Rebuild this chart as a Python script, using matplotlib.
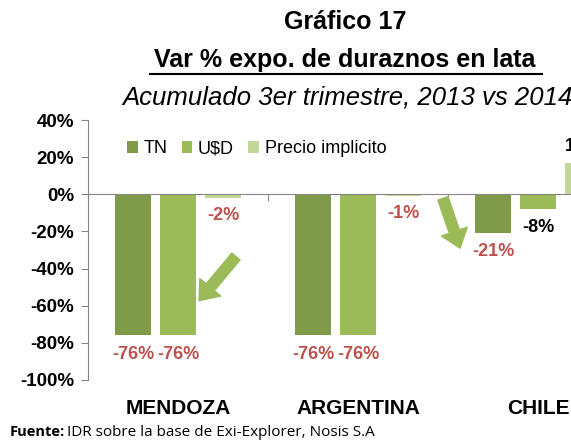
import matplotlib
matplotlib.use("Agg")
import matplotlib.pyplot as plt
import numpy as np

# pip install matplotlib numpy

regions = ["MENDOZA", "ARGENTINA", "CHILE"]
series_names = ["TN", "U$D", "Precio implicito"]
tn_values = [-76, -76, -21]
usd_values = [-76, -76, -8]
price_values = [-2, -1, 17]
tn_labels = ["-76%", "-76%", "-21%"]
usd_labels = ["-76%", "-76%", "-8%"]
price_labels = ["-2%", "-1%", "17%"]
y_ticks = [40, 20, 0, -20, -40, -60, -80, -100]

colors = ["#7F9A48", "#9BBB59", "#C4D79B"]
red = "#C0504D"
plt.rcParams["font.family"] = ["Liberation Sans", "DejaVu Sans"]

fig = plt.figure(figsize=(5.71, 4.41), dpi=100)
# axes is wider than the figure on purpose: the reference is cropped on the right
ax = fig.add_axes([88 / 571, 61 / 441, 540 / 571, 260 / 441])

x = np.arange(len(regions))
offset = 0.25
width = 0.205
all_values = [tn_values, usd_values, price_values]
for i, vals in enumerate(all_values):
    ax.bar(x + (i - 1) * offset, vals, width, color=colors[i], label=series_names[i], zorder=2)

# value labels
for i in range(len(regions)):
    ax.text(x[i] - offset, tn_values[i] - 5.5, tn_labels[i], ha="center", va="top",
            color=red, fontsize=13, fontweight="bold")
    usd_color = red if i < 2 else "black"
    ax.text(x[i], usd_values[i] - 5.5, usd_labels[i], ha="center", va="top",
            color=usd_color, fontsize=13, fontweight="bold")
    if price_values[i] < 0:
        ax.text(x[i] + offset, price_values[i] - 5, price_labels[i], ha="center", va="top",
                color=red, fontsize=13, fontweight="bold")
    else:
        ax.text(x[i] + offset, price_values[i] + 4, price_labels[i], ha="center", va="bottom",
                color="black", fontsize=13, fontweight="bold")

# green arrows
arrow_style = "simple,head_length=0.9,head_width=1.4,tail_width=0.55"
ax.annotate("", xy=(0.117, -57.3), xytext=(0.322, -33.5),
            arrowprops=dict(arrowstyle=arrow_style, color="#9BBB59", mutation_scale=14, shrinkA=0, shrinkB=0))
ax.annotate("", xy=(1.567, -29), xytext=(1.472, -2.2),
            arrowprops=dict(arrowstyle=arrow_style, color="#9BBB59", mutation_scale=14, shrinkA=0, shrinkB=0))

ax.set_xlim(-0.5, 2.5)
ax.set_ylim(-100, 40)
ax.set_yticks(y_ticks)
ax.set_yticklabels([f"{v}%" for v in y_ticks], fontsize=13.5, fontweight="bold")
ax.tick_params(axis="y", direction="out", length=5, color="#868686", pad=5)

ax.spines["top"].set_visible(False)
ax.spines["right"].set_visible(False)
ax.spines["left"].set_color("#868686")
ax.spines["bottom"].set_position(("data", 0))
ax.spines["bottom"].set_color("#868686")
ax.set_xticks([0.5, 1.5])
ax.set_xticklabels(["", ""])
ax.tick_params(axis="x", direction="out", length=5, color="#868686")

for i, name in enumerate(regions):
    ax.text(x[i], -0.11, name, transform=ax.get_xaxis_transform(), ha="center", va="center",
            fontsize=15, fontweight="bold")

ax.legend(loc="upper left", bbox_to_anchor=(0.042, 0.985), ncol=3, frameon=False,
          fontsize=13, handlelength=0.6, handleheight=0.6, handletextpad=0.3, columnspacing=0.8)

# titles
fig.text(345 / 571, 1 - 22 / 441, "Gráfico 17", ha="center", va="center", fontsize=18, fontweight="bold")
fig.text(345 / 571, 1 - 60 / 441, "Var % expo. de duraznos en lata", ha="center", va="center",
         fontsize=18, fontweight="bold")
fig.add_artist(plt.Line2D([150 / 571, 542 / 571], [1 - 74 / 441, 1 - 74 / 441], color="black", lw=1.5))
fig.text(347 / 571, 1 - 97 / 441, "Acumulado 3er trimestre, 2013 vs 2014", ha="center", va="center",
         fontsize=18.5, fontstyle="italic")

fig.text(10 / 571, 1 - 432 / 441, "Fuente:", ha="left", va="center", fontsize=10.5, fontweight="bold",
         family="Open Sans")
fig.text(67 / 571, 1 - 432 / 441, "IDR sobre la base de Exi-Explorer, Nosis S.A", ha="left", va="center",
         fontsize=11, family="Open Sans")

fig.savefig("out.png", dpi=100)
